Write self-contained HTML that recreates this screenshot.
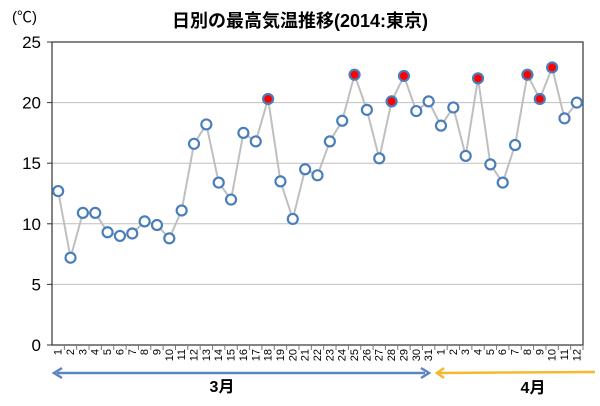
<!DOCTYPE html>
<html><head><meta charset="utf-8"><style>
body{margin:0;background:#fff;width:600px;height:401px;overflow:hidden}
svg text{font-family:"Liberation Sans","Noto Sans CJK JP",sans-serif}
</style></head><body>
<svg id="c" width="600" height="401"></svg>
<script>
const days=[1,2,3,4,5,6,7,8,9,10,11,12,13,14,15,16,17,18,19,20,21,22,23,24,25,26,27,28,29,30,31,1,2,3,4,5,6,7,8,9,10,11,12];
const temps=[12.7,7.2,10.9,10.9,9.3,9.0,9.2,10.2,9.9,8.8,11.1,16.6,18.2,13.4,12.0,17.5,16.8,20.3,13.5,10.4,14.5,14.0,16.8,18.5,22.3,19.4,15.4,20.1,22.2,19.3,20.1,18.1,19.6,15.6,22.0,14.9,13.4,16.5,22.3,20.3,22.9,18.7,20.0];
const highlight=[0,0,0,0,0,0,0,0,0,0,0,0,0,0,0,0,0,1,0,0,0,0,0,0,1,0,0,1,1,0,0,0,0,0,1,0,0,0,1,1,1,0,0];
const yTicks=[0,5,10,15,20,25];
const NS="http://www.w3.org/2000/svg";
const svg=document.getElementById('c');
const L=52,R=583,T=42,B=345;
const n=days.length,bw=(R-L)/n;
const x=i=>L+bw*(i+0.5);
const y=v=>B-(v/25)*(B-T);
function mk(t,a,txt){const e=document.createElementNS(NS,t);for(const k in a)e.setAttribute(k,a[k]);if(txt!==undefined)e.textContent=txt;svg.appendChild(e);return e;}
let e;
e=mk('text',{x:300,y:27,'text-anchor':'middle','font-size':18,'font-weight':'bold'},'日別の最高気温推移(2014:東京)');


e=mk('text',{x:12,y:22,'font-size':15},'(℃)');


yTicks.forEach(v=>{
 if(v>0&&v<25){e=mk('line',{x1:L,x2:R,y1:y(v),y2:y(v),stroke:'#bfbfbf','stroke-width':1});
 
 }
 e=mk('line',{x1:L-5,x2:L,y1:y(v),y2:y(v),stroke:'#333'});
 
 
 e=mk('text',{x:41,y:y(v)+6,'text-anchor':'end','font-size':17},v);
 
 
});
e=mk('rect',{x:L,y:T,width:R-L,height:B-T,fill:'none',stroke:'#333','stroke-width':1.2});


days.forEach((d,i)=>{
 e=mk('line',{x1:L+bw*(i+1),x2:L+bw*(i+1),y1:B,y2:B+5,stroke:'#777'});
 
 
 e=mk('text',{transform:`translate(${x(i)+3.5},${B+4}) rotate(-90)`,'text-anchor':'end','font-size':11},d);
 
 
});
e=mk('polyline',{points:temps.map((v,i)=>x(i)+','+y(v)).join(' '),fill:'none',stroke:'#bfbfbf','stroke-width':2});


temps.forEach((v,i)=>{
 e=mk('circle',{cx:x(i),cy:y(v),r:5,fill:highlight[i]?'#ff0000':'#fff',stroke:'#4a7ebb','stroke-width':2.2});
 
 
});
e=mk('line',{x1:57,x2:425,y1:373,y2:373,stroke:'#5b84c4','stroke-width':2.5});


e=mk('polyline',{points:'62,368 54,373 62,378',fill:'none',stroke:'#5b84c4','stroke-width':2.5});


e=mk('polyline',{points:'421,368 429,373 421,378',fill:'none',stroke:'#5b84c4','stroke-width':2.5});


e=mk('line',{x1:438,x2:595,y1:373,y2:372,stroke:'#f5b82e','stroke-width':2.5});


e=mk('polyline',{points:'444,368 437,373 444,378',fill:'none',stroke:'#f5b82e','stroke-width':2.5});


e=mk('text',{x:222,y:392,'text-anchor':'middle','font-size':16,'font-weight':'bold'},'3月');


e=mk('text',{x:533,y:393,'text-anchor':'middle','font-size':16,'font-weight':'bold'},'4月');


</script>
</body></html>
